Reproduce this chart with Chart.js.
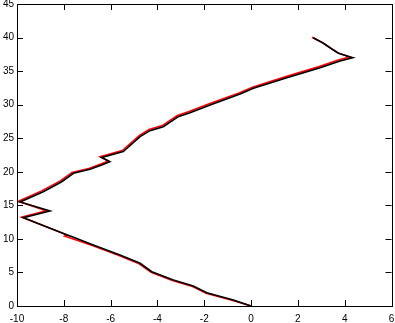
<!DOCTYPE html>
<html>
<head>
<meta charset="utf-8">
<script src="https://cdn.jsdelivr.net/npm/chart.js@4"></script>
<style>
  html, body { margin: 0; padding: 0; background: #fff; }
  #plot { display: block; }
</style>
</head>
<body>
<canvas id="plot" width="395" height="323"></canvas>
<script>
// traced path, black run
const blackX = [0, -0.76, -1.89, -2.47, -3.32, -4.24, -4.74, -5.60, -6.74, -7.75, -7.88, -9.73, -8.59, -9.87, -8.88, -8.09, -7.59, -6.88, -6.38, -6.03, -6.38, -5.46, -4.74, -4.32, -3.75, -3.11, -2.61, -1.75, -0.47, 0.10, 1.53, 2.95, 3.80, 4.35, 3.73, 3.45, 3.09, 2.66];
const blackY = [0, 0.89, 1.98, 2.98, 3.87, 5.11, 6.36, 7.60, 9.09, 10.45, 10.60, 13.16, 14.16, 15.50, 17.03, 18.52, 19.78, 20.37, 21.01, 21.50, 22.13, 23.00, 25.23, 26.13, 26.72, 28.21, 28.81, 29.96, 31.59, 32.44, 34.02, 35.51, 36.51, 37.00, 37.66, 38.30, 39.15, 39.98];

// red run, nearly on top of the black one
const redX = [0, -0.78, -1.92, -2.50, -3.36, -4.27, -4.78, -5.64, -6.78, -7.85, -7.97, -7.88, -9.80, -8.75, -9.95, -8.95, -8.15, -7.65, -6.93, -6.42, -6.10, -6.45, -5.50, -4.78, -4.36, -3.79, -3.15, -2.65, -1.79, -0.51, 0.06, 1.49, 2.91, 3.76, 4.20, 3.70, 3.42, 3.05, 2.60];
const redY = [0, 0.82, 1.90, 2.90, 3.80, 5.03, 6.28, 7.52, 9.02, 10.28, 10.42, 10.60, 13.25, 14.20, 15.60, 17.15, 18.65, 19.90, 20.50, 21.15, 21.60, 22.25, 23.15, 25.40, 26.30, 26.88, 28.38, 28.98, 30.12, 31.75, 32.60, 34.18, 35.67, 36.68, 37.10, 37.75, 38.40, 39.25, 40.05];

const xTicks = [-10, -8, -6, -4, -2, 0, 2, 4, 6];
const yTicks = [0, 5, 10, 15, 20, 25, 30, 35, 40, 45];

const pts = (xs, ys) => xs.map((x, i) => ({ x, y: ys[i] }));

// gnuplot-like box with inward ticks on all four sides
const boxTicks = {
  id: "boxTicks",
  afterDraw(chart) {
    const { ctx, chartArea: a, scales } = chart;
    const len = 6;
    ctx.save();
    ctx.strokeStyle = "#000";
    ctx.lineWidth = 1;
    ctx.beginPath();
    xTicks.forEach(v => {
      const px = Math.round(scales.x.getPixelForValue(v)) + 0.5;
      ctx.moveTo(px, a.bottom); ctx.lineTo(px, a.bottom - len);
      ctx.moveTo(px, a.top); ctx.lineTo(px, a.top + len);
    });
    yTicks.forEach(v => {
      const py = Math.round(scales.y.getPixelForValue(v)) + 0.5;
      ctx.moveTo(a.left, py); ctx.lineTo(a.left + len, py);
      ctx.moveTo(a.right, py); ctx.lineTo(a.right - len, py);
    });
    ctx.stroke();
    ctx.strokeRect(Math.round(a.left) + 0.5, Math.round(a.top) + 0.5,
      Math.round(a.right - a.left), Math.round(a.bottom - a.top));
    ctx.restore();
  }
};

const zeroPad = (s) => { s.paddingTop = 0; s.paddingBottom = 0; s.paddingLeft = 0; s.paddingRight = 0; };

new Chart(document.getElementById("plot"), {
  type: "scatter",
  data: {
    datasets: [
      { data: pts(blackX, blackY), borderColor: "#000", borderWidth: 1.6, showLine: true, pointRadius: 0, tension: 0, order: 0 },
      { data: pts(redX, redY), borderColor: "#ff0000", borderWidth: 1.6, showLine: true, pointRadius: 0, tension: 0, order: 1 }
    ]
  },
  options: {
    responsive: false,
    animation: false,
    layout: { padding: { top: 4, right: 3.5, left: 0, bottom: 0 } },
    plugins: { legend: { display: false }, tooltip: { enabled: false } },
    scales: {
      x: {
        type: "linear", min: -10, max: 6,
        afterBuildTicks: (s) => { s.ticks = xTicks.map(v => ({ value: v })); },
        afterFit: (s) => { s.height = 17; zeroPad(s); },
        grid: { display: false, drawTicks: false },
        border: { display: false },
        ticks: { color: "#000", font: { family: "Liberation Sans", size: 10 }, padding: 7, maxRotation: 0 }
      },
      y: {
        type: "linear", min: 0, max: 45,
        afterBuildTicks: (s) => { s.ticks = yTicks.map(v => ({ value: v })); },
        afterFit: (s) => { s.width = 17; zeroPad(s); },
        grid: { display: false, drawTicks: false },
        border: { display: false },
        ticks: { color: "#000", font: { family: "Liberation Sans", size: 10 }, padding: 3 }
      }
    }
  },
  plugins: [boxTicks]
});
</script>
</body>
</html>
